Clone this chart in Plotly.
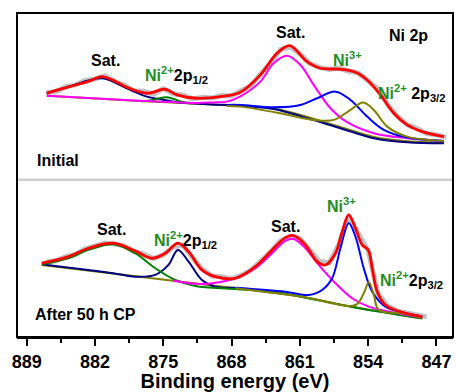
import plotly.graph_objects as go

FONT = "Liberation Sans, Arial, sans-serif"
GREEN_TXT = "#1f8f1f"

# ---------------- x axis ----------------
tick_vals = [889, 882, 875, 868, 861, 854, 847]

# ---------------- Upper panel: Initial ----------------
up_raw_E = [887, 886, 885, 884, 883, 882, 881, 880, 879, 878, 877, 876, 875, 874, 873, 872, 871,
            870, 869, 868, 867, 866, 865, 864, 863, 862, 861, 860, 859, 858, 857, 856, 855, 854,
            853, 852, 851, 850, 849, 848, 847, 846]
up_raw_I = [87.5, 88.2, 93.4, 95.1, 99.6, 100.8, 104.2, 98.7, 94.9, 89.1, 88.6, 85.7, 91.4, 86.2,
            84.9, 81.0, 82.6, 81.9, 84.4, 84.3, 89.5, 94.2, 106.4, 117.1, 130.2, 133.1, 126.3,
            116.6, 112.6, 110.4, 111.9, 108.7, 107.1, 99.0, 91.2, 75.1, 63.8, 55.2, 51.6, 46.3,
            45.1, 42.6]

up_env_E = [886.95, 884.73, 882.68, 881.30, 879.90, 878.74, 876.68, 874.80, 873.60, 871.55, 869.16,
            867.10, 865.05, 863.34, 862.04, 860.26, 858.89, 856.84, 855.30, 854.10, 852.73, 851.37,
            849.99, 848.28, 846.23]
up_env_I = [86.7, 93.0, 98.5, 103.3, 98.5, 92.7, 86.7, 90.7, 85.0, 81.7, 83.3, 87.7, 105.0, 126.7,
            134.3, 118.3, 111.7, 110.7, 107.7, 100.0, 85.0, 66.7, 55.0, 47.7, 43.3]

up_bg_E = [886.95, 877.0, 867.10, 863.69, 860.77, 856.84, 853.42, 849.99, 846.23]
up_bg_I = [84.3, 78.8, 74.0, 71.5, 64.5, 53.0, 43.0, 38.7, 37.5]

up_sat1_E = [886.95, 884.73, 881.30, 878.74, 876.68, 874.90, 873.30, 870.0, 867.10, 863.69, 860.77,
             856.84, 853.42, 849.99, 846.23]
up_sat1_I = [86.7, 93.0, 101.7, 91.7, 83.3, 80.0, 77.3, 75.5, 74.3, 71.0, 63.3, 51.7, 41.7, 37.7, 36.7]

up_ni2a_E = [877.2, 876.2, 875.4, 874.7, 874.0, 873.2, 872.0]
up_ni2a_I = [78.8, 79.6, 81.6, 82.6, 81.2, 78.5, 76.6]

up_sat2_E = [886.95, 878.0, 872.0, 869.90, 868.47, 867.10, 865.05, 863.69, 862.31, 860.94, 859.58,
             857.86, 856.15, 853.42, 849.99, 846.23]
up_sat2_I = [84.3, 79.5, 77.0, 77.5, 78.3, 83.5, 98.3, 116.7, 124.3, 115.0, 95.0, 71.7, 57.7, 46.7,
             41.7, 39.0]

up_ni3_E = [868.5, 867.10, 863.69, 860.94, 859.23, 857.35, 855.81, 854.10, 852.39, 849.99, 846.23]
up_ni3_I = [75.0, 75.0, 72.7, 75.0, 81.7, 88.3, 80.0, 63.3, 50.0, 42.3, 39.0]

up_ni2b_E = [868.5, 867.10, 863.00, 859.58, 857.53, 855.81, 854.51, 853.42, 852.04, 849.99, 846.23]
up_ni2b_I = [74.0, 73.3, 66.7, 60.0, 60.0, 70.0, 77.3, 70.0, 53.3, 43.3, 39.0]

# ---------------- Lower panel: After 50 h CP ----------------
lo_raw_E = [887, 886, 885, 884, 883, 882, 881, 880, 879, 878, 877, 876, 875, 874, 873, 872, 871,
            870, 869, 868, 867, 866, 865, 864, 863, 862, 861, 860, 859, 858, 857, 856, 855, 854,
            853, 852, 851, 850, 849, 848]
lo_raw_I = [74.9, 76.1, 80.2, 82.6, 88.1, 90.4, 93.8, 92.9, 91.0, 85.4, 82.7, 78.3, 82.0, 89.9,
            91.6, 79.2, 67.8, 60.9, 60.1, 58.0, 61.7, 66.8, 75.9, 85.0, 96.1, 100.2, 98.6, 86.4,
            75.8, 73.9, 92.5, 120.4, 102.8, 86.2, 43.5, 31.0, 26.1, 24.2, 21.2, 20.1]

lo_env_E = [887.46, 884.73, 882.68, 880.11, 877.89, 876.17, 874.80, 873.50, 872.41, 871.04, 869.67,
            867.62, 865.56, 863.85, 862.48, 861.63, 860.43, 859.23, 858.38, 857.35, 856.66, 855.99,
            855.30, 854.61, 853.99, 853.58, 853.07, 852.22, 850.50, 848.45]
lo_env_I = [73.7, 80.3, 88.7, 93.7, 86.0, 78.7, 83.7, 93.7, 85.3, 67.0, 60.3, 58.7, 70.3, 87.0, 99.3,
            101.3, 92.0, 75.3, 72.0, 83.7, 105.3, 122.0, 108.7, 92.0, 87.0, 68.7, 45.3, 32.0, 24.7,
            20.3]

lo_bg_E = [887.46, 867.62, 860.77, 855.64, 848.45]
lo_bg_I = [72.0, 48.7, 40.3, 30.3, 18.7]

lo_sat1_E = [887.46, 884.73, 882.68, 880.11, 877.89, 875.83, 873.78, 871.72, 867.62, 863.50, 860.77,
             855.64, 848.45]
lo_sat1_I = [72.7, 78.7, 87.0, 92.7, 83.7, 68.7, 57.0, 51.0, 48.0, 45.0, 40.0, 30.0, 18.5]

lo_ni2a_E = [887.46, 880.0, 877.89, 875.83, 874.47, 873.50, 872.41, 871.04, 869.67, 867.62]
lo_ni2a_I = [72.7, 63.5, 60.3, 62.0, 72.0, 87.0, 75.3, 57.0, 50.3, 49.3]

lo_sat2_E = [874.0, 871.04, 867.62, 865.56, 863.85, 862.48, 861.63, 860.43, 859.07, 857.35, 855.64,
             853.93, 851.53, 848.45]
lo_sat2_I = [56.5, 53.0, 58.7, 68.7, 83.7, 96.0, 98.0, 88.7, 72.0, 53.7, 38.7, 30.3, 24.7, 19.3]

lo_ni3_E = [867.62, 862.48, 860.09, 858.72, 857.69, 856.84, 855.99, 855.30, 854.45, 853.58, 852.22,
            850.50, 848.45]
lo_ni3_I = [49.3, 45.3, 42.0, 47.0, 58.7, 88.7, 113.7, 100.3, 68.7, 45.3, 30.3, 24.7, 20.3]

lo_ni2b_E = [867.62, 860.77, 855.30, 854.45, 853.93, 853.42, 852.91, 850.50, 848.45]
lo_ni2b_I = [48.7, 40.3, 32.0, 43.7, 54.7, 42.0, 27.0, 23.7, 19.0]

fig = go.Figure()


def add(xv, yv, color, width, yaxis, shape="spline"):
    fig.add_trace(go.Scatter(x=xv, y=yv, mode="lines", yaxis=yaxis, xaxis="x",
                             line=dict(color=color, width=width, shape=shape),
                             hoverinfo="skip", showlegend=False))


# upper
add(up_raw_E, up_raw_I, "#c2c2c2", 5, "y", "linear")
add(up_bg_E, up_bg_I, "#808000", 2, "y")
add(up_sat1_E, up_sat1_I, "#000080", 2, "y")
add(up_ni2a_E, up_ni2a_I, "#008000", 2, "y")
add(up_sat2_E, up_sat2_I, "#ff00ff", 2, "y")
add(up_ni3_E, up_ni3_I, "#0000ff", 2, "y")
add(up_ni2b_E, up_ni2b_I, "#808000", 2, "y")
add(up_env_E, up_env_I, "#ff0000", 2.8, "y")
# lower
add(lo_raw_E, lo_raw_I, "#c2c2c2", 5, "y2", "linear")
add(lo_bg_E, lo_bg_I, "#808000", 2, "y2")
add(lo_ni2a_E, lo_ni2a_I, "#000080", 2, "y2")
add(lo_sat1_E, lo_sat1_I, "#008000", 2, "y2")
add(lo_sat2_E, lo_sat2_I, "#ff00ff", 2, "y2")
add(lo_ni3_E, lo_ni3_I, "#0000ff", 2, "y2")
add(lo_ni2b_E, lo_ni2b_I, "#808000", 2, "y2")
add(lo_env_E, lo_env_I, "#ff0000", 2.8, "y2")

ni2 = "<span style='color:%s'>Ni<sup>2+</sup></span>" % GREEN_TXT
ni3 = "<span style='color:%s'>Ni<sup>3+</sup></span>" % GREEN_TXT

labels = [
    # text, x, y, yref, xanchor
    ("Sat.", 880.97, 119, "y", "center"),
    (ni2 + "2p<sub>1/2</sub>", 877.06, 105, "y", "left"),
    ("Sat.", 861.97, 147, "y", "center"),
    ("Ni 2p", 849.86, 144, "y", "center"),
    (ni3, 857.76, 121, "y", "left"),
    (ni2 + " 2p<sub>3/2</sub>", 853.24, 87, "y", "left"),
    ("Initial", 888.15, 19, "y", "left"),
    ("Sat.", 880.30, 107, "y2", "center"),
    (ni2 + "2p<sub>1/2</sub>", 876.17, 97, "y2", "left"),
    ("Sat.", 862.48, 110, "y2", "center"),
    (ni3, 858.38, 132, "y2", "left"),
    (ni2 + "2p<sub>3/2</sub>", 853.04, 57, "y2", "left"),
    ("After 50 h CP", 888.36, 22, "y2", "left"),
]
for t, xv, yv, yr, xa in labels:
    fig.add_annotation(text=t, x=xv, y=yv, xref="x", yref=yr, xanchor=xa, yanchor="middle",
                       showarrow=False, font=dict(family=FONT, size=16, color="black", weight="bold"))

fig.update_layout(
    width=456, height=392,
    margin=dict(l=17, r=3, t=13, b=55),
    paper_bgcolor="white", plot_bgcolor="white",
    showlegend=False,
    font=dict(family=FONT, color="black"),
    xaxis=dict(range=[890, 845.3], tickmode="array", tickvals=tick_vals,
               ticks="outside", ticklen=7, tickwidth=2, tickcolor="black",
               showline=True, linewidth=2, linecolor="black", showgrid=False, zeroline=False,
               tickfont=dict(family=FONT, size=18, weight="bold", color="black"),
               title=dict(text="Binding energy (eV)", standoff=1,
                          font=dict(family=FONT, size=20, weight="bold", color="black")),
               anchor="y2",
               minor=dict(ticks="outside", ticklen=4, tickwidth=2, tickcolor="black",
                          tick0=889, dtick=3.5, showgrid=False)),
    yaxis=dict(domain=[0.485, 1], range=[0, 167], visible=False, anchor="x"),
    yaxis2=dict(domain=[0, 0.485], range=[0, 157], visible=False, anchor="x"),
    shapes=[
        dict(type="line", xref="paper", yref="paper", x0=0, x1=1, y0=0.485, y1=0.485,
             line=dict(color="#cfcfcf", width=2.5)),
        dict(type="rect", xref="paper", yref="paper", x0=0, x1=1, y0=0, y1=1,
             line=dict(color="black", width=2), fillcolor="rgba(0,0,0,0)"),
    ],
)

fig.write_html("out.html")
